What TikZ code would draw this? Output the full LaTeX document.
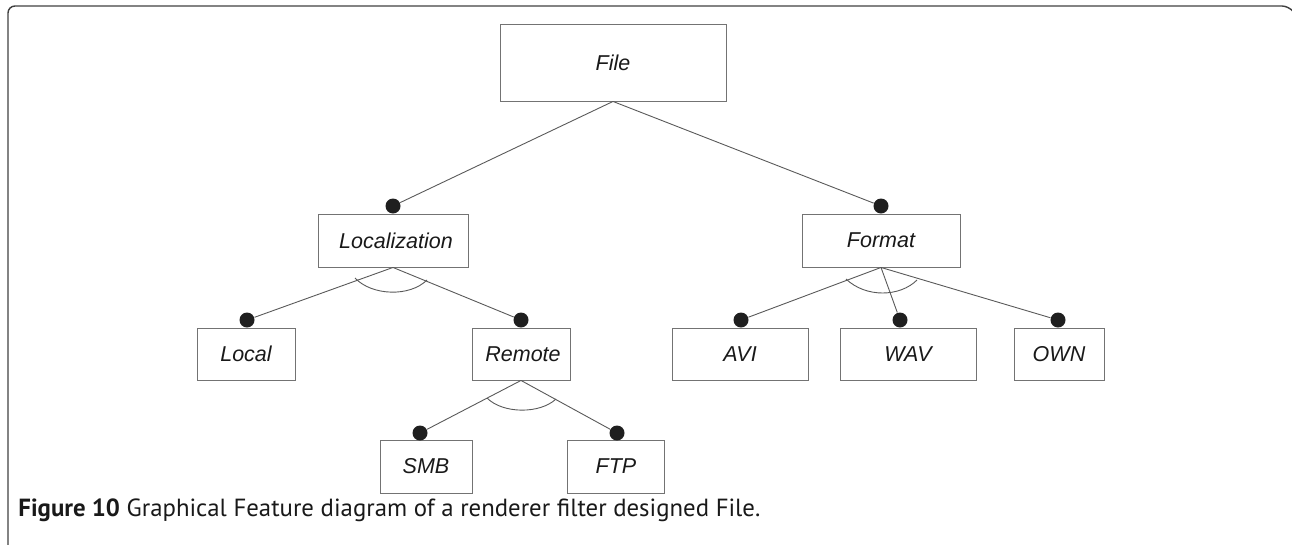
\documentclass[tikz,border=0pt]{standalone}
\usepackage{fontspec}
\setmainfont{Liberation Sans}
\newfontfamily\capfont{PT Sans}
\begin{document}
\begin{tikzpicture}[x=1pt,y=-1pt,
  every node/.style={rectangle,draw=black!55,line width=0.9pt,inner sep=0pt,minimum height=52pt,text=black!90,font=\fontsize{21.5}{24}\selectfont\itshape},
  dot/.style={circle,fill=black!88,draw=none,minimum size=15pt},
  link/.style={draw=black!65,line width=0.9pt}]
  \useasboundingbox (0,0) rectangle (1292,544);
  \draw[black!75,line width=1.4pt,rounded corners=7pt] (8,545) -- (8,6) -- (1289,6) -- (1292,10);
  % features
  \node (file) [minimum width=226pt,minimum height=77pt] at (613,62.5) {File};
  \node (loc) [minimum width=150pt,minimum height=53pt] at (393,240.5) {\hspace{6pt}Localization};
  \node (fmt) [minimum width=158pt,minimum height=53pt] at (881,240.5) {Format};
  \node (local) [minimum width=98pt] at (246,354) {Local};
  \node (remote) [minimum width=98pt] at (521,354) {\hspace{4pt}Remote};
  \node (avi) [minimum width=136pt] at (740,354) {AVI};
  \node (wav) [minimum width=136pt] at (908,354) {WAV};
  \node (own) [minimum width=90pt] at (1059,354) {OWN};
  \node (smb) [minimum width=92pt,minimum height=53pt] at (426,466.5) {SMB};
  \node (ftp) [minimum width=97pt,minimum height=53pt] at (616,466.5) {FTP};
  % mandatory dots
  \node (dloc) [dot] at (393,206) {};
  \node (dfmt) [dot] at (881,206) {};
  \node (dlocal) [dot] at (247,320) {};
  \node (dremote) [dot] at (521,320) {};
  \node (davi) [dot] at (741,320) {};
  \node (dwav) [dot] at (900,320) {};
  \node (down) [dot] at (1058,320) {};
  \node (dsmb) [dot] at (420,433) {};
  \node (dftp) [dot] at (617,433) {};
  \draw[link] (file.south)--(dloc);
  \draw[link] (file.south)--(dfmt);
  \draw[link] (loc.south)--(dlocal);
  \draw[link] (loc.south)--(dremote);
  \draw[link] (remote.south)--(dsmb);
  \draw[link] (remote.south)--(dftp);
  \draw[link] (fmt.south)--(davi);
  \draw[link] (fmt.south)--(dwav);
  \draw[link] (fmt.south)--(down);
  % alternative arcs
  \draw[link] (355,278) .. controls (372,296) and (410,297) .. (427,280);
  \draw[link] (846,279) .. controls (866,298) and (900,297) .. (917,280);
  \draw[link] (487,398) .. controls (503,414) and (540,414) .. (556,399);
  \node (cap) [draw=none,minimum height=0pt,anchor=base west,text=black!90,font=\capfont\fontsize{24.8}{28}\selectfont] at (18,516) {\textbf{Figure 10} Graphical Feature diagram of a renderer filter designed File.};
\end{tikzpicture}
\end{document}
